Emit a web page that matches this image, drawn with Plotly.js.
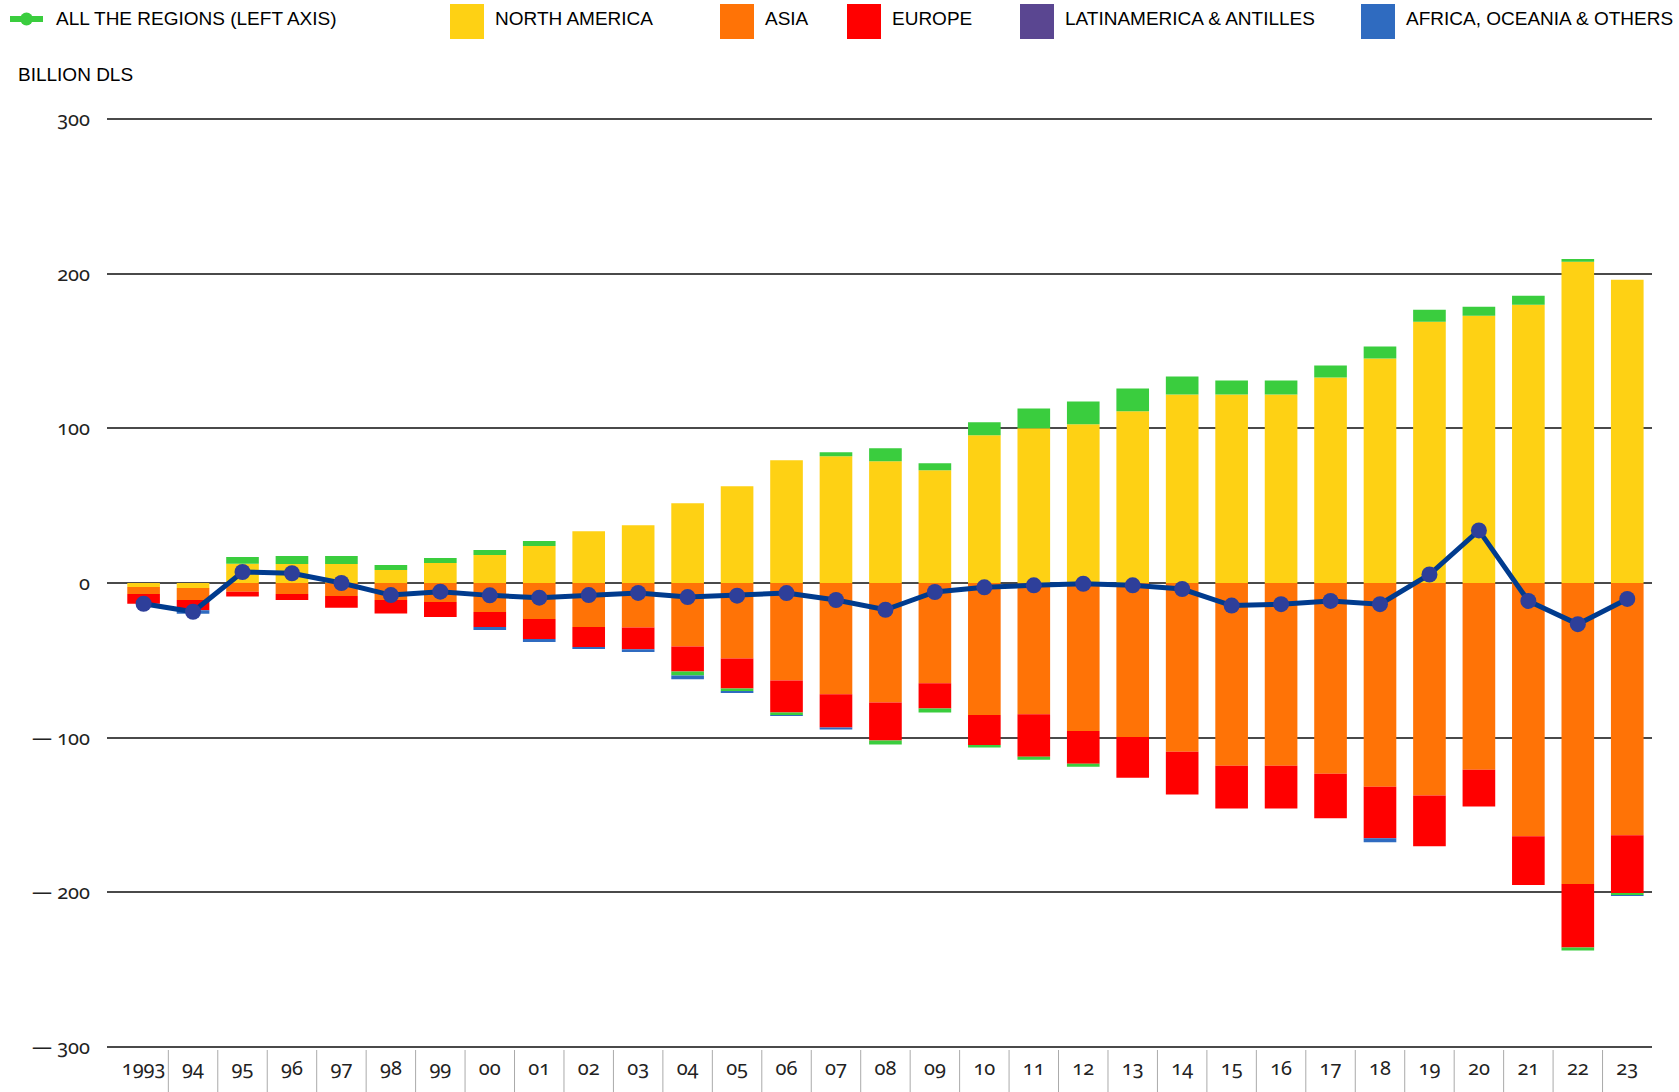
<!DOCTYPE html>
<html>
<head>
<meta charset="utf-8">
<script src="https://cdn.plot.ly/plotly-3.0.1.min.js"></script>
<style>
  html, body { margin: 0; padding: 0; background: #fff; }
  #chart { width: 1679px; height: 1092px; }
  .xtick text, .ytick text { font-feature-settings: "onum" 1; font-variant-numeric: oldstyle-nums; }
</style>
</head>
<body>
<div id="chart"></div>
<script>
// years on the axis
var years = ['1993','94','95','96','97','98','99','00','01','02','03','04','05','06','07','08','09','10','11','12','13','14','15','16','17','18','19','20','21','22','23'];

// billion dls
var northAmerica = [-2.6,-3.2,12.5,12.3,12.3,8.4,12.9,18.1,23.9,33.5,37.4,51.6,62.6,79.4,82,78.7,72.9,95.5,100,102.6,111,121.9,121.9,121.9,132.9,145.2,169,172.9,180,207.7,196.1];
var asia = [-4.5,-7.8,-5.6,-7.1,-8.4,-11,-12.3,-18.8,-23.3,-28.5,-28.7,-41,-48.8,-63,-72,-77.2,-64.9,-85.4,-84.8,-95.7,-99.6,-109.2,-118.2,-118.2,-123.3,-131.7,-137.5,-120.8,-163.8,-194.6,-163.2];
var europe = [-6.3,-6.7,-3.2,-3.9,-7.6,-8.8,-9.7,-9.7,-12.9,-12.9,-14.2,-16.2,-19.4,-20.7,-21.4,-24.6,-16.2,-19.3,-27.6,-21.2,-26.3,-27.6,-27.6,-27.6,-28.9,-33.4,-32.8,-23.8,-31.5,-41.1,-37.3];
var latamUp = [0,0,4.3,5.2,5.2,3.2,3.2,3.2,3.2,0,0,0,0,0,2.6,8.4,4.5,8.4,12.9,14.8,14.8,11.6,9,9,7.7,7.7,7.7,5.8,5.8,1.9,0];
var latamDown = [0,0,0,0,0,0,0,0,0,0,0,-2.6,-1.7,-1.7,0,-2.6,-2.6,-1.7,-1.9,-1.9,0,0,0,0,0,0,0,0,0,-1.9,-1.3];
var africa = [0,-2.2,0,0,0,0,0,-1.9,-1.9,-1.3,-1.7,-2.4,-0.6,-0.6,-1.3,0,0,0,0,0,0,0,0,0,0,-2.6,0,0,0,0,-0.6];
var allRegions = [-13.4,-18.6,7.1,6.3,0,-7.8,-5.6,-8,-9.5,-7.8,-6.4,-9.1,-8.2,-6.5,-11,-17.3,-5.8,-2.8,-1.5,-0.5,-1.5,-3.9,-14.6,-13.7,-11.6,-13.7,5.5,34,-11.6,-26.6,-10.3];

var yTicks = [-300,-200,-100,0,100,200,300];
var yTickText = ['\u2014 300','\u2014 200','\u2014 100','0','100','200','300'];

var W = 1679, H = 1092;
var M = {l: 107, r: 27, t: 116, b: 42};
function px(x) { return (x - M.l) / (W - M.l - M.r); }
function py(y) { return (H - M.b - y) / (H - M.t - M.b); }

function bar(name, vals, color) {
  return {type: 'bar', name: name, x: years, y: vals,
    marker: {color: color, line: {width: 0}}, hoverinfo: 'x+y+name'};
}

var data = [
  bar('NORTH AMERICA', northAmerica, '#FED114'),
  bar('ASIA', asia, '#FF7306'),
  bar('EUROPE', europe, '#FF0000'),
  bar('LATINAMERICA & ANTILLES', latamUp, '#3ACD3E'),
  bar('LATINAMERICA & ANTILLES', latamDown, '#3ACD3E'),
  bar('AFRICA, OCEANIA & OTHERS', africa, '#2F6BC0'),
  {type: 'scatter', mode: 'lines+markers', name: 'ALL THE REGIONS', x: years, y: allRegions,
    line: {color: '#003B8E', width: 5}, marker: {color: '#2E3F9A', size: 16}}
];

var legendItems = [
  {text: 'NORTH AMERICA', color: '#FED114', x: 450},
  {text: 'ASIA', color: '#FF7306', x: 720},
  {text: 'EUROPE', color: '#FF0000', x: 847},
  {text: 'LATINAMERICA & ANTILLES', color: '#5A4691', x: 1020},
  {text: 'AFRICA, OCEANIA & OTHERS', color: '#2F6BC0', x: 1361}
];

var legFont = {family: '"Liberation Sans", Arial, sans-serif', size: 19, color: '#000'};
var shapes = [
  {type: 'line', xref: 'paper', yref: 'paper', x0: px(10), x1: px(43), y0: py(19), y1: py(19),
    line: {color: '#3ACD3E', width: 6}},
  {type: 'circle', xref: 'paper', yref: 'paper', x0: px(20), x1: px(33), y0: py(25.5), y1: py(12.5),
    fillcolor: '#3ACD3E', line: {width: 0}}
];
var annotations = [
  {xref: 'paper', yref: 'paper', x: px(54), y: py(18), xanchor: 'left', yanchor: 'middle',
    text: 'ALL THE REGIONS (LEFT AXIS)', showarrow: false, font: legFont},
  {xref: 'paper', yref: 'paper', x: px(16), y: py(75), xanchor: 'left', yanchor: 'middle',
    text: 'BILLION DLS', showarrow: false, font: legFont}
];
legendItems.forEach(function (it) {
  shapes.push({type: 'rect', xref: 'paper', yref: 'paper', x0: px(it.x), x1: px(it.x + 34),
    y0: py(39), y1: py(4), fillcolor: it.color, line: {width: 0}});
  annotations.push({xref: 'paper', yref: 'paper', x: px(it.x + 43), y: py(18), xanchor: 'left',
    yanchor: 'middle', text: it.text, showarrow: false, font: legFont});
});

// separators between the year cells under the axis
for (var i = 0; i < years.length - 1; i++) {
  shapes.push({type: 'line', xref: 'x', yref: 'paper', x0: i + 0.5, x1: i + 0.5,
    y0: 0, y1: py(H), line: {color: '#aaa', width: 1}});
}

var layout = {
  width: W, height: H,
  margin: M,
  paper_bgcolor: '#fff', plot_bgcolor: '#fff',
  barmode: 'relative', bargap: 0.34,
  showlegend: false,
  font: {family: '"Noto Sans", sans-serif', size: 20, color: '#222'},
  xaxis: {type: 'category', range: [-0.74, years.length - 0.5], tickangle: 0, ticks: '',
    ticklabelstandoff: 4, showgrid: false, zeroline: false, showline: false,
    tickfont: {size: 20, color: '#222'}},
  yaxis: {range: [-302, 302], tickvals: yTicks, ticktext: yTickText, ticks: '',
    ticklabelstandoff: 16, showgrid: true, gridcolor: '#4a4a4a', gridwidth: 1.5,
    zeroline: true, zerolinecolor: '#4a4a4a', zerolinewidth: 1.5, showline: false,
    tickfont: {size: 20, color: '#222'}},
  shapes: shapes,
  annotations: annotations
};

Plotly.newPlot('chart', data, layout, {displayModeBar: false});
</script>
</body>
</html>
